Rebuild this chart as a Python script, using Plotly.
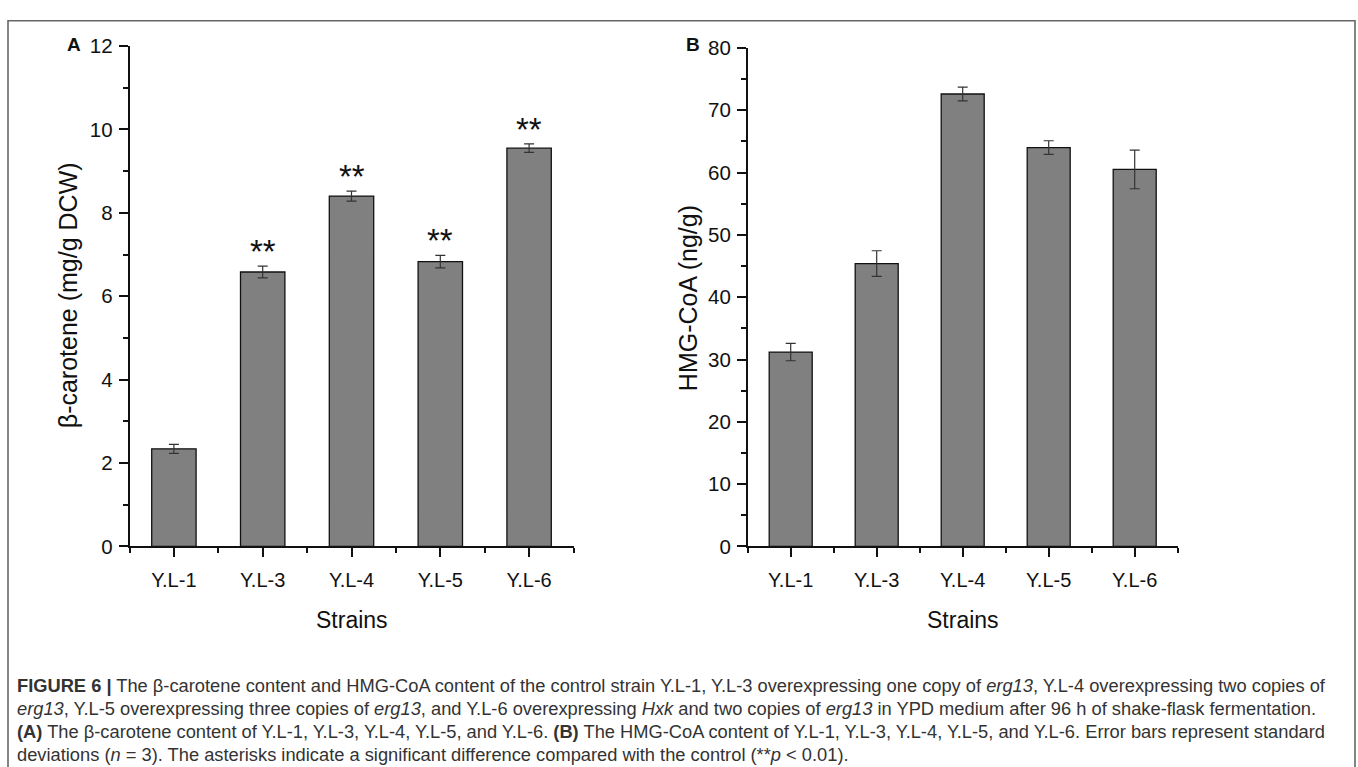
import plotly.graph_objects as go

# ---------------- data ----------------
strains = ["Y.L-1", "Y.L-3", "Y.L-4", "Y.L-5", "Y.L-6"]
carotene = [2.34, 6.58, 8.40, 6.83, 9.55]
carotene_sd = [0.11, 0.14, 0.12, 0.15, 0.10]
carotene_sig = ["", "**", "**", "**", "**"]
hmgcoa = [31.2, 45.4, 72.6, 64.0, 60.5]
hmgcoa_sd = [1.4, 2.05, 1.1, 1.1, 3.1]
ticks_a = [0, 2, 4, 6, 8, 10, 12]
ticks_b = [0, 10, 20, 30, 40, 50, 60, 70, 80]

W, H = 1358, 767
FONT = "Liberation Sans, Arial, sans-serif"


def px(x):
    return x / W


def py(y):
    return 1 - y / H


xpos = list(range(len(strains)))

fig = go.Figure()

fig.add_trace(go.Bar(
    x=xpos, y=carotene, width=0.5,
    marker=dict(color="#808080", line=dict(color="#111111", width=1.3)),
    error_y=dict(type="data", array=carotene_sd, visible=True,
                 color="#333333", thickness=1.2, width=5),
    xaxis="x", yaxis="y", showlegend=False, hoverinfo="skip"))

fig.add_trace(go.Bar(
    x=xpos, y=hmgcoa, width=0.5,
    marker=dict(color="#808080", line=dict(color="#111111", width=1.3)),
    error_y=dict(type="data", array=hmgcoa_sd, visible=True,
                 color="#333333", thickness=1.2, width=5),
    xaxis="x2", yaxis="y2", showlegend=False, hoverinfo="skip"))

common_x = dict(
    range=[-0.5, len(strains) - 0.5], tickmode="array", tickvals=xpos,
    ticktext=strains, ticks="outside", ticklen=9, tickwidth=1.5,
    tickcolor="#111", showline=True, linecolor="#111", linewidth=1.6,
    showgrid=False, zeroline=False, fixedrange=True,
    tickfont=dict(family=FONT, size=20, color="#111"),
    ticklabelstandoff=6,
    minor=dict(tickvals=[i - 0.5 for i in range(len(strains) + 1)],
               ticks="outside", ticklen=5, tickwidth=1.5, tickcolor="#111",
               showgrid=False),
)

common_y = dict(
    ticks="outside", ticklen=9, tickwidth=1.5, tickcolor="#111",
    showline=True, linecolor="#111", linewidth=1.6, showgrid=False,
    zeroline=False, fixedrange=True, tickmode="array",
    tickfont=dict(family=FONT, size=20.5, color="#111"),
    ticklabelstandoff=2,
)

fig.update_layout(
    width=W, height=H,
    margin=dict(l=0, r=0, t=0, b=0),
    paper_bgcolor="white", plot_bgcolor="white",
    bargap=0.5,
    xaxis=dict(domain=[px(129.5), px(573.5)], anchor="y", **common_x),
    yaxis=dict(domain=[py(551), py(35)], anchor="x", range=[0, 12],
               tickvals=ticks_a,
               minor=dict(dtick=1, tick0=0, ticks="outside", ticklen=5,
                          tickwidth=1.5, tickcolor="#111", showgrid=False),
               **common_y),
    xaxis2=dict(domain=[px(747.7), px(1177.7)], anchor="y2", **common_x),
    yaxis2=dict(domain=[py(551), py(37)], anchor="x2", range=[0, 80],
                tickvals=ticks_b,
                minor=dict(dtick=5, tick0=0, ticks="outside", ticklen=5,
                           tickwidth=1.5, tickcolor="#111", showgrid=False),
                **common_y),
)

ann = []
# significance asterisks
for i, s in enumerate(carotene_sig):
    if s:
        ann.append(dict(x=xpos[i], y=carotene[i] + carotene_sd[i], xref="x",
                        yref="y", text=s, showarrow=False, yanchor="bottom",
                        yshift=-6,
                        font=dict(family=FONT, size=33, color="#111")))

# axis titles
ann.append(dict(x=px(351.5), y=py(627), xref="paper", yref="paper",
                text="Strains", showarrow=False, xanchor="center",
                yanchor="middle",
                font=dict(family=FONT, size=23, color="#111")))
ann.append(dict(x=px(962.7), y=py(627), xref="paper", yref="paper",
                text="Strains", showarrow=False, xanchor="center",
                yanchor="middle",
                font=dict(family=FONT, size=23, color="#111")))
ann.append(dict(x=px(68), y=py(292), xref="paper", yref="paper",
                text="β-carotene (mg/g DCW)", showarrow=False, textangle=-90,
                xanchor="center", yanchor="middle",
                font=dict(family=FONT, size=25, color="#111")))
ann.append(dict(x=px(688), y=py(295), xref="paper", yref="paper",
                text="HMG-CoA (ng/g)", showarrow=False, textangle=-90,
                xanchor="center", yanchor="middle",
                font=dict(family=FONT, size=25, color="#111")))
# panel letters
ann.append(dict(x=px(74), y=py(33), xref="paper", yref="paper",
                text="<b>A</b>", showarrow=False, xanchor="center",
                yanchor="middle",
                font=dict(family=FONT, size=19, color="#111")))
ann.append(dict(x=px(693), y=py(33), xref="paper", yref="paper",
                text="<b>B</b>", showarrow=False, xanchor="center",
                yanchor="middle",
                font=dict(family=FONT, size=19, color="#111")))

# caption
caption_lines = [
    "<b>FIGURE 6 |</b> The β-carotene content and HMG-CoA content of the control strain Y.L-1, Y.L-3 overexpressing one copy of <i>erg13</i>, Y.L-4 overexpressing two copies of",
    "<i>erg13</i>, Y.L-5 overexpressing three copies of <i>erg13</i>, and Y.L-6 overexpressing <i>Hxk</i> and two copies of <i>erg13</i> in YPD medium after 96 h of shake-flask fermentation.",
    "<b>(A)</b> The β-carotene content of Y.L-1, Y.L-3, Y.L-4, Y.L-5, and Y.L-6. <b>(B)</b> The HMG-CoA content of Y.L-1, Y.L-3, Y.L-4, Y.L-5, and Y.L-6. Error bars represent standard",
    "deviations (<i>n</i> = 3). The asterisks indicate a significant difference compared with the control (**<i>p</i> &lt; 0.01).",
]
line_y = [694, 718, 742, 765]
for t, yy in zip(caption_lines, line_y):
    ann.append(dict(x=px(15), y=py(yy), xref="paper", yref="paper", text=t,
                    showarrow=False, xanchor="left", yanchor="middle",
                    align="left",
                    font=dict(family=FONT, size=18.3, color="#333")))

fig.update_layout(annotations=ann)

# outer frame
fig.add_shape(type="rect", xref="paper", yref="paper",
              x0=px(8), x1=px(1355), y0=-0.05, y1=py(9),
              line=dict(color="#666666", width=1.6), fillcolor="rgba(0,0,0,0)",
              layer="below")

fig.write_html("out.html")
